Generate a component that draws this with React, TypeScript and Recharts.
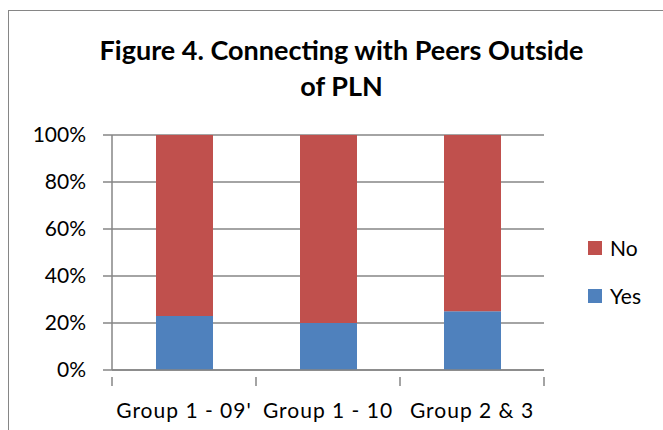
import React from "react";
import { BarChart, Bar, XAxis, YAxis, CartesianGrid } from "recharts";

const categories = ["Group 1 - 09'", "Group 1 - 10", "Group 2 & 3"];
const yesValues = [23, 20, 25];
const noValues = [77, 80, 75];
const yTicks = [0, 20, 40, 60, 80, 100];
const seriesNames = ["No", "Yes"];
const seriesColors: Record<string, string> = { No: "#C0504D", Yes: "#4F81BD" };

const data = categories.map((c, i) => ({ name: c, Yes: yesValues[i], No: noValues[i] }));

const W = 663;
const H = 430;
const FONT = "Lato, 'Open Sans', sans-serif";
const AXIS = "#868686";

const XTick = (props: any) => {
  const { x, y, payload, index } = props;
  const half = payload && payload.offset ? payload.offset : 72;
  return (
    <g>
      <line x1={x - half} x2={x - half} y1={y - 1} y2={y + 8} stroke={AXIS} strokeWidth={1.5} />
      {index === categories.length - 1 && (
        <line x1={x + half} x2={x + half} y1={y - 1} y2={y + 8} stroke={AXIS} strokeWidth={1.5} />
      )}
      <text
        x={x}
        y={y + 40}
        textAnchor="middle"
        fontSize={21}
        letterSpacing={1}
        fill="#000"
        fontFamily={FONT}
      >
        {payload.value}
      </text>
    </g>
  );
};

export default function App() {
  return (
    <div style={{ position: "absolute", left: 0, top: 0, width: W, height: H, background: "#fff", overflow: "hidden" }}>
      <div
        style={{
          position: "absolute",
          left: 8,
          top: 10,
          width: W,
          height: H,
          borderLeft: `1.5px solid ${AXIS}`,
          borderTop: `1.5px solid ${AXIS}`,
        }}
      />
      <div
        style={{
          position: "absolute",
          left: 0,
          top: 32,
          width: 683,
          textAlign: "center",
          fontFamily: FONT,
          fontWeight: 700,
          fontSize: 27,
          lineHeight: "36px",
          color: "#000",
        }}
      >
        Figure 4. Connecting with Peers Outside
        <br />
        of PLN
      </div>
      <div style={{ position: "absolute", left: 0, top: 0 }}>
        <BarChart
          width={W}
          height={H}
          data={data}
          margin={{ top: 135, right: 119, bottom: 0, left: 0 }}
          barSize={57}
        >
          <CartesianGrid vertical={false} stroke={AXIS} strokeWidth={1.5} />
          <XAxis
            dataKey="name"
            height={60}
            tickLine={false}
            axisLine={{ stroke: AXIS, strokeWidth: 1.5 }}
            tick={<XTick />}
            interval={0}
          />
          <YAxis
            width={112}
            domain={[0, 100]}
            ticks={yTicks}
            tickFormatter={(v: number) => `${v}%`}
            tickSize={9}
            tickMargin={17}
            tickLine={{ stroke: AXIS, strokeWidth: 1.5 }}
            axisLine={{ stroke: AXIS, strokeWidth: 1.5 }}
            tick={{ fontSize: 21, fill: "#000", fontFamily: FONT }}
          />
          <Bar dataKey="Yes" stackId="a" fill={seriesColors.Yes} isAnimationActive={false} />
          <Bar dataKey="No" stackId="a" fill={seriesColors.No} isAnimationActive={false} />
        </BarChart>
      </div>
      <div style={{ position: "absolute", left: 588, top: 234, fontFamily: FONT, fontSize: 21, color: "#000" }}>
        {seriesNames.map((n) => (
          <div key={n} style={{ display: "flex", alignItems: "center", height: 27, marginBottom: 21 }}>
            <span style={{ width: 14, height: 14, background: seriesColors[n], display: "inline-block", marginRight: 8 }} />
            <span>{n}</span>
          </div>
        ))}
      </div>
    </div>
  );
}
